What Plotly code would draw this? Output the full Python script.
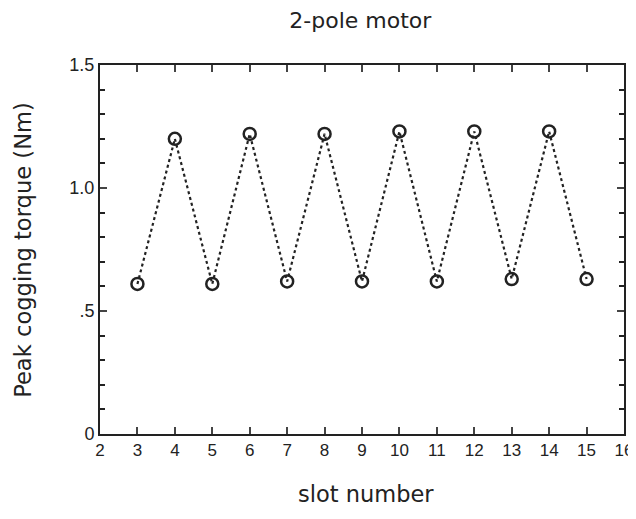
import plotly.graph_objects as go

slots = [3, 4, 5, 6, 7, 8, 9, 10, 11, 12, 13, 14, 15]
torque = [0.61, 1.20, 0.61, 1.22, 0.62, 1.22, 0.62, 1.23, 0.62, 1.23, 0.63, 1.23, 0.63]

x_ticks = list(range(2, 17))
y_tickvals = [0, 0.5, 1.0, 1.5]
y_ticktext = ["0", ".5", "1.0", "1.5"]

fig = go.Figure()
fig.add_trace(go.Scatter(
    x=slots, y=torque, mode="lines+markers",
    line=dict(color="#222", width=2.2, dash="3px,3px"),
    marker=dict(symbol="circle-open", size=12, color="#222", line=dict(width=2.5)),
    showlegend=False,
))

font = "Liberation Sans, Arial, sans-serif"
wide = "DejaVu Sans, Liberation Sans, sans-serif"
fig.update_layout(
    width=628, height=503,
    paper_bgcolor="white", plot_bgcolor="white",
    margin=dict(l=92, r=12, t=57, b=77, autoexpand=False),
    title=dict(text="2-pole motor", x=0.561, xanchor="center", y=0.976, yanchor="middle",
               font=dict(family=wide, size=22, color="#222")),
    font=dict(family=font, color="#222"),
    annotations=[
        dict(text="slot number", xref="paper", yref="paper", x=0.508, y=0, yshift=-60,
             xanchor="center", yanchor="middle", showarrow=False,
             font=dict(family=wide, size=22.5, color="#222")),
        dict(text="Peak cogging torque (Nm)", xref="paper", yref="paper", x=0, y=0.499, xshift=-77,
             xanchor="center", yanchor="middle", textangle=-90, showarrow=False,
             font=dict(family=wide, size=22.6, color="#222")),
    ],
)
fig.update_xaxes(
    range=[2, 16], tickvals=x_ticks, ticks="inside", ticklen=7, tickwidth=2,
    showline=True, linecolor="#222", linewidth=2, mirror="allticks", showgrid=False,
    zeroline=False, tickfont=dict(size=17), automargin=False, ticklabeloverflow="allow",
)
fig.update_yaxes(
    range=[0, 1.5], tickvals=y_tickvals, ticktext=y_ticktext, ticks="inside", ticklen=7, tickwidth=2,
    showline=True, linecolor="#222", linewidth=2, mirror="allticks", showgrid=False,
    zeroline=False, tickfont=dict(size=18), automargin=False, ticklabeloverflow="allow",
    minor=dict(ticks="inside", dtick=0.1, ticklen=5, tickwidth=1.5, tickcolor="#222", showgrid=False),
)

fig.write_html("out.html")
